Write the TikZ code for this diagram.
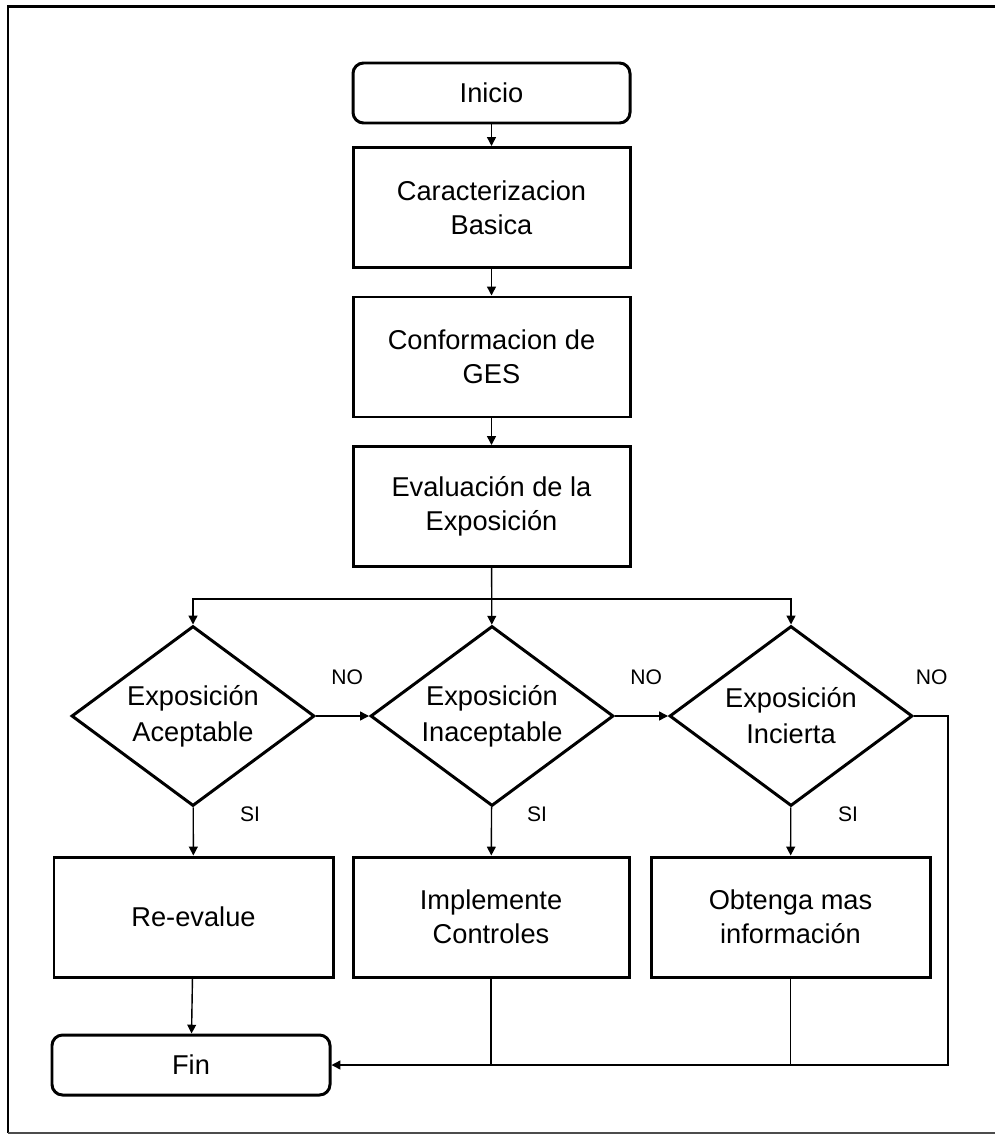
\documentclass[tikz,border=0pt]{standalone}
\usepackage{fontspec}
\setmainfont{Liberation Sans}
\usepackage{tikz}
\usetikzlibrary{positioning, arrows.meta, shapes.geometric, calc}

\begin{document}
\begin{tikzpicture}[
    proc/.style={draw, rectangle, line width=1.7pt, minimum width=5.54cm,
                 minimum height=2.4cm, align=center, inner sep=0pt,
                 font=\fontsize{15.5}{19.5}\selectfont},
    term/.style={proc, rounded corners=6pt, minimum height=1.2cm},
    decide/.style={draw, diamond, line width=1.7pt, aspect=1.35, inner sep=0pt,
                 minimum width=4.86cm, minimum height=3.6cm, align=center,
                 font=\fontsize{15.5}{20.5}\selectfont},
    lbl/.style={font=\fontsize{12}{14}\selectfont, inner sep=0pt},
    arr/.style={-{Triangle[length=5pt, width=5pt]}, line width=0.8pt},
    conn/.style={line width=0.8pt},
]

\useasboundingbox (0,0) rectangle (19.9,-22.7);

% Frame (open on the right)
\draw[line width=1.7pt] (19.9,-0.14) -- (0.16,-0.14) -- (0.16,-22.66);
\draw[line width=0.8pt, black!70] (0.16,-22.66) -- (19.9,-22.66);

% Main column
\node[term] (inicio) at (9.83,-1.86) {Inicio};
\node[proc] (carac) at (9.83,-4.15) {Caracterizacion\\Basica};
\node[proc] (conf) at (9.83,-7.14) {Conformacion de\\GES};
\node[proc] (eval) at (9.83,-10.13) {Evaluación de la\\Exposición};

% Decisions
\node[decide] (acep) at (3.86,-14.32) {Exposición\\Aceptable};
\node[decide] (inac) at (9.84,-14.32) {Exposición\\Inaceptable};
\node[decide] (inci) at (15.82,-14.32) {Exposición\\Incierta};

% Actions
\node[proc, minimum width=5.58cm] (reeval) at (3.87,-18.34) {Re-evalue};
\node[proc, minimum width=5.52cm] (impl) at (9.82,-18.34) {Implemente\\Controles};
\node[proc, minimum width=5.58cm] (obt) at (15.81,-18.34) {Obtenga mas\\información};
\node[term, minimum width=5.56cm] (fin) at (3.82,-21.3) {Fin};

% Branch labels
\node[lbl, above right=0.62cm and 0.3cm of acep.east] (no1) {NO};
\node[lbl, above right=0.62cm and 0.3cm of inac.east] (no2) {NO};
\node[lbl, above right=0.62cm and 0.03cm of inci.east] (no3) {NO};
\node[lbl] (si1) at ($(acep.south)+(1.14,-0.14)$) {SI};
\node[lbl] (si2) at ($(inac.south)+(0.9,-0.14)$) {SI};
\node[lbl] (si3) at ($(inci.south)+(1.14,-0.14)$) {SI};

% Connectors
\draw[arr] (inicio) -- (carac);
\draw[arr] (carac) -- (conf);
\draw[arr] (conf) -- (eval);
\draw[arr] (eval) -- (inac);
\coordinate (split) at ($(eval.south)+(0,-0.62)$);
\draw[arr] (split) -| (acep.north);
\draw[arr] (split) -| (inci.north);

\draw[arr] (acep) -- (inac);
\draw[arr] (inac) -- (inci);
\draw[arr] (acep) -- (reeval);
\draw[arr] (inac) -- (impl);
\draw[arr] (inci) -- (obt);

\draw[arr] (reeval) -- (fin);
\draw[conn] (impl.south) -- (impl.south |- fin.east);
\draw[conn] (obt.south) -- (obt.south |- fin.east);
\draw[arr] (inci.east) -- ++(0.68,0) |- (fin.east);

\end{tikzpicture}
\end{document}
